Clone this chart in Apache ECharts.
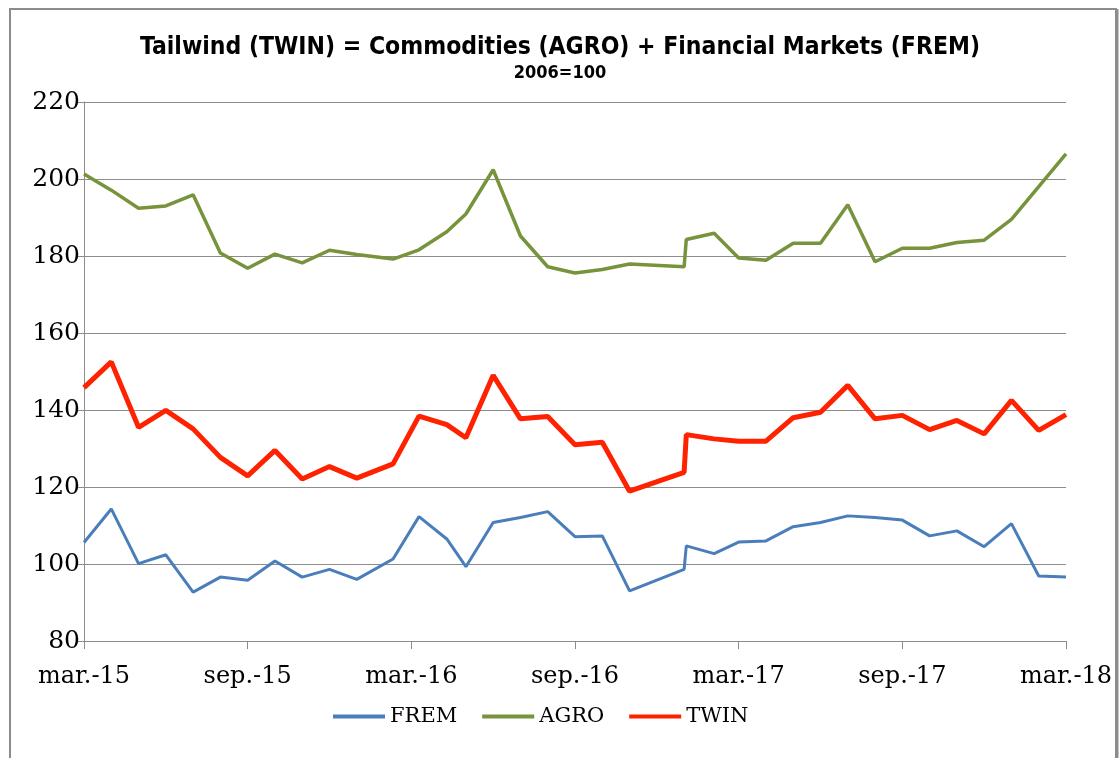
<!DOCTYPE html>
<html>
<head>
<meta charset="utf-8">
<title>Tailwind</title>
<script src="https://cdn.jsdelivr.net/npm/echarts@6/dist/echarts.min.js"></script>
<style>
  html, body { margin: 0; padding: 0; background: #fff; }
  #chart { width: 1120px; height: 758px; }
</style>
</head>
<body>
<div id="chart"></div>
<script>
'use strict';

// months since mar.-15 (observation dates, the jan.-17 rebasing gives two points)
var months = [0, 1, 2, 3, 4, 5, 6, 7, 8, 9, 10,
  11.33, 12.28, 13.3, 14, 15, 16, 17, 18, 19, 20,
  22, 22.08, 23.1, 24,
  25, 26, 27, 28, 29, 30, 31, 32, 33, 34, 35, 36];

var frem = [105.6, 114.3, 100.1, 102.4, 92.7, 96.6, 95.8, 100.8, 96.6, 98.6, 96.0,
  101.3, 112.3, 106.5, 99.3, 110.8, 112.1, 113.6, 107.1, 107.3, 93.0,
  98.6, 104.7, 102.7, 105.7,
  106.0, 109.7, 110.8, 112.5, 112.1, 111.4, 107.3, 108.6, 104.5, 110.5, 96.9, 96.6];

var agro = [201.3, 197.1, 192.4, 193.0, 195.9, 180.8, 176.8, 180.5, 178.2, 181.5, 180.4,
  179.2, 181.6, 186.3, 190.9, 202.4, 185.2, 177.2, 175.6, 176.5, 177.9,
  177.2, 184.3, 185.9, 179.5,
  178.9, 183.3, 183.3, 193.3, 178.5, 182.0, 182.0, 183.5, 184.1, 189.5, 198.0, 206.5];

var twin = [145.8, 152.5, 135.5, 139.9, 135.1, 127.7, 122.9, 129.5, 122.1, 125.3, 122.3,
  126.0, 138.4, 136.2, 132.8, 149.0, 137.7, 138.3, 131.0, 131.6, 118.9,
  123.8, 133.6, 132.5, 131.9,
  131.9, 138.0, 139.4, 146.4, 137.7, 138.6, 134.9, 137.3, 133.8, 142.5, 134.7, 138.8];

var tickLabels = ['mar.-15', 'sep.-15', 'mar.-16', 'sep.-16', 'mar.-17', 'sep.-17', 'mar.-18'];

function pairs(vals) {
  return months.map(function (m, i) { return [m, vals[i]]; });
}

var serif = "'DejaVu Serif', 'Liberation Serif', serif";
var condensed = "'DejaVu Sans Condensed', 'Liberation Sans Narrow', 'Liberation Sans', sans-serif";
var chart = echarts.init(document.getElementById('chart'));

var option = {
  animation: false,
  backgroundColor: '#fff',
  graphic: [
    {
      type: 'rect',
      shape: { x: 10, y: 9, width: 1106, height: 770 },
      style: { fill: 'none', stroke: '#8c8c8c', lineWidth: 2 }
    },
    {
      type: 'line',
      shape: { x1: 1117, y1: 9, x2: 1117, y2: 758 },
      style: { stroke: '#8c8c8c', lineWidth: 3 }
    }
  ],
  title: {
    text: 'Tailwind (TWIN) = Commodities (AGRO) + Financial Markets (FREM)',
    subtext: '2006=100',
    left: 'center',
    top: 30,
    itemGap: 4,
    textStyle: { fontFamily: condensed, fontWeight: 'bold', fontSize: 24.5, color: '#000' },
    subtextStyle: { fontFamily: condensed, fontWeight: 'bold', fontSize: 18, color: '#000' }
  },
  legend: {
    bottom: 26,
    left: 328,
    icon: 'rect',
    itemWidth: 52,
    itemHeight: 4,
    itemGap: 25,
    textStyle: { fontFamily: serif, fontSize: 21, color: '#000' },
    data: ['FREM', 'AGRO', 'TWIN']
  },
  grid: { left: 84, right: 54, top: 102, bottom: 117 },
  xAxis: {
    type: 'value',
    min: 0, max: 36, interval: 6,
    axisLine: { lineStyle: { color: '#8c8c8c', width: 1 } },
    axisTick: { show: true, length: 8, lineStyle: { color: '#8c8c8c' } },
    splitLine: { show: false },
    axisLabel: {
      margin: 24,
      fontFamily: serif, fontSize: 24, color: '#000',
      formatter: function (v) { return tickLabels[Math.round(v / 6)]; }
    }
  },
  yAxis: {
    type: 'value',
    min: 80, max: 220, interval: 20,
    axisLine: { show: true, lineStyle: { color: '#8c8c8c', width: 1 } },
    axisTick: { show: true, length: 8, lineStyle: { color: '#8c8c8c' } },
    splitLine: { lineStyle: { color: '#8c8c8c', width: 1 } },
    axisLabel: { margin: 4, fontFamily: serif, fontSize: 25, color: '#000' }
  },
  series: [
    {
      name: 'FREM', type: 'line', data: pairs(frem), symbol: 'none',
      lineStyle: { color: '#4a7ebb', width: 3 }, itemStyle: { color: '#4a7ebb' }
    },
    {
      name: 'AGRO', type: 'line', data: pairs(agro), symbol: 'none',
      lineStyle: { color: '#77933c', width: 3.5 }, itemStyle: { color: '#77933c' }
    },
    {
      name: 'TWIN', type: 'line', data: pairs(twin), symbol: 'none',
      lineStyle: { color: '#ff2200', width: 5 }, itemStyle: { color: '#ff2200' }
    }
  ]
};

chart.setOption(option);
</script>
</body>
</html>
